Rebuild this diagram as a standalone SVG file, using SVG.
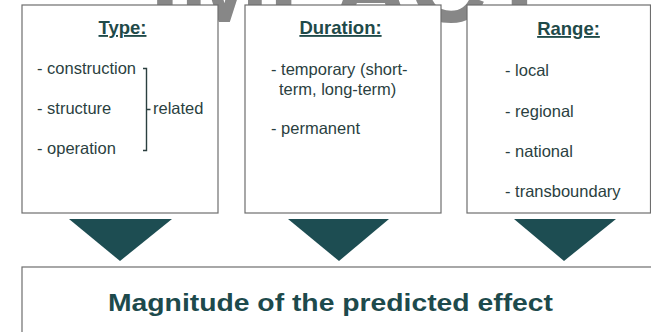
<svg xmlns="http://www.w3.org/2000/svg" width="651" height="332" viewBox="0 0 651 332">
<defs>
<clipPath id="topstrip"><rect x="0" y="0" width="651" height="24"/></clipPath>
</defs>
<style>
.bg{font-family:"Liberation Sans",Arial,sans-serif;font-weight:bold;font-size:107px;fill:#878787}
.box{fill:#ffffff;stroke:#6e6e6e;stroke-width:1.2}
.title{font-family:"Liberation Sans",Arial,sans-serif;font-weight:bold;font-size:18.5px;fill:#1f4a49;text-anchor:middle;text-decoration:underline}
.item{font-family:"Liberation Sans",Arial,sans-serif;font-size:16.5px;fill:#2b3f3f}
.tri{fill:#1d4d52}
.big{font-family:"Liberation Sans",Arial,sans-serif;font-weight:bold;font-size:24px;fill:#1d4a4c}
.br{fill:none;stroke:#2b3f3f;stroke-width:1.4}
</style>
<rect width="651" height="332" fill="#ffffff"/>
<g clip-path="url(#topstrip)">
<text class="bg" x="150" y="22">IMPACT</text>
</g>
<g id="type">
<rect class="box" x="22" y="5" width="196" height="208"/>
<text class="title" x="122.5" y="34">Type:</text>
<text class="item" x="37" y="74">- construction</text>
<text class="item" x="37" y="114">- structure</text>
<text class="item" x="37" y="154">- operation</text>
<path class="br" d="M143 68.5H146.5V150.5H143M146.5 109.5H150.5"/>
<text class="item" x="153" y="114">related</text>
</g>
<g id="duration">
<rect class="box" x="245" y="5" width="196" height="208"/>
<text class="title" x="340.5" y="34">Duration:</text>
<text class="item" x="271" y="75">- temporary (short-</text>
<text class="item" x="279" y="95">term, long-term)</text>
<text class="item" x="271" y="134">- permanent</text>
</g>
<g id="range">
<rect class="box" x="467" y="5" width="183.5" height="208"/>
<text class="title" x="568.5" y="35">Range:</text>
<text class="item" x="505" y="76">- local</text>
<text class="item" x="505" y="116.5">- regional</text>
<text class="item" x="505" y="157">- national</text>
<text class="item" x="505" y="197">- transboundary</text>
</g>
<g id="connectors">
<polygon class="tri" points="69,219 172,219 120,261"/>
<polygon class="tri" points="288,219 389,219 339,261"/>
<polygon class="tri" points="514,219 616,219 564,261"/>
</g>
<g id="magnitude">
<rect class="box" x="22" y="267" width="640" height="80"/>
<text class="big" x="108" y="311" textLength="445" lengthAdjust="spacingAndGlyphs">Magnitude of the predicted effect</text>
</g>
</svg>
